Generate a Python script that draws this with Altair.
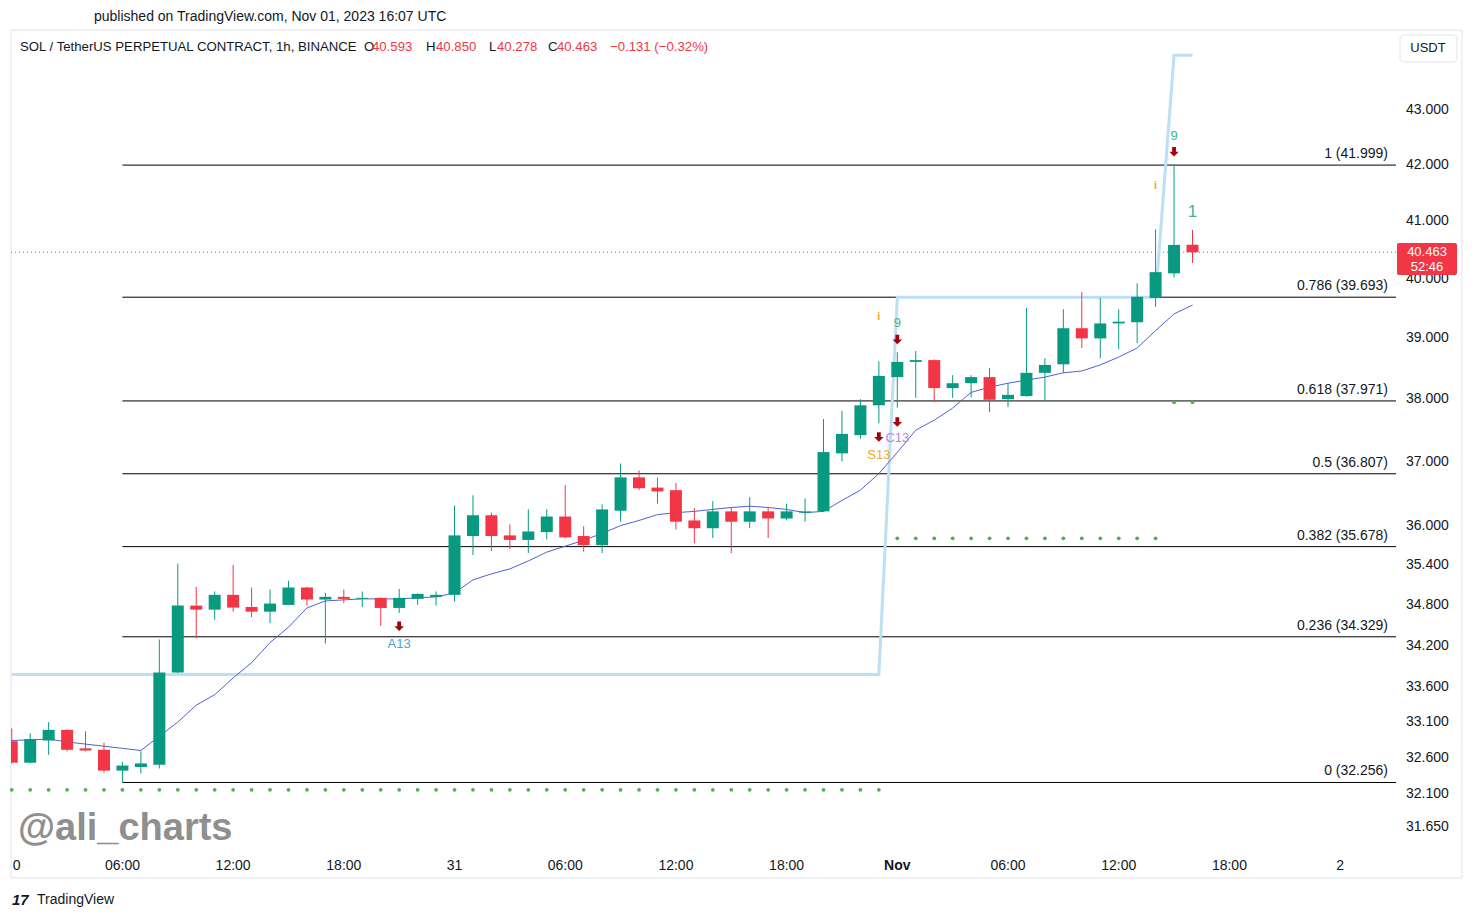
import altair as alt
import pandas as pd

GREEN = "#089981"
RED = "#f23645"
TXT = "#131722"
FONT = "Liberation Sans"

# ---- candles (hourly, hour 0 = Oct 30 00:00 UTC) ----
hours = list(range(65))
opens = [32.83, 32.53, 32.84, 32.99, 32.73, 32.71, 32.42, 32.47, 32.50, 33.81,
         34.79, 34.73, 34.95, 34.77, 34.70, 34.80, 35.06, 34.88, 34.92, 34.89,
         34.905, 34.755, 34.89, 34.92, 34.95, 35.84, 36.16, 35.85, 35.78, 35.90,
         36.14, 35.84, 35.70, 36.23, 36.75, 36.59, 36.55, 36.08, 35.96, 36.22,
         36.06, 36.22, 36.11, 36.20, 36.22, 37.13, 37.42, 37.90, 38.36, 38.61,
         38.64, 38.18, 38.26, 38.36, 38.00, 38.05, 38.43, 38.57, 39.17, 39.00,
         39.25, 39.27, 39.68, 40.10, 40.593]
highs = [33.01, 32.94, 33.10, 33.00, 32.97, 32.81, 32.54, 32.69, 34.29, 35.42,
         35.07, 35.00, 35.40, 35.06, 35.03, 35.16, 35.07, 34.98, 35.03, 35.00,
         34.91, 35.04, 34.97, 35.00, 36.31, 36.47, 36.20, 36.02, 36.25, 36.25,
         36.63, 35.99, 36.33, 36.97, 36.86, 36.75, 36.66, 36.27, 36.38, 36.28,
         36.44, 36.28, 36.34, 36.42, 37.68, 37.81, 38.00, 38.62, 38.77, 38.79,
         38.65, 38.39, 38.39, 38.51, 38.26, 39.51, 38.67, 39.49, 39.78, 39.68,
         39.49, 39.93, 40.86, 41.999, 40.850]
lows = [32.52, 32.52, 32.64, 32.69, 32.69, 32.39, 32.256, 32.38, 32.45, 33.80,
        34.31, 34.58, 34.70, 34.62, 34.53, 34.80, 34.79, 34.23, 34.83, 34.77,
        34.49, 34.68, 34.80, 34.79, 34.85, 35.55, 35.61, 35.64, 35.58, 35.79,
        35.81, 35.60, 35.58, 36.06, 36.55, 36.34, 35.94, 35.73, 35.81, 35.58,
        35.96, 35.81, 36.08, 36.06, 36.21, 37.00, 37.36, 37.61, 37.86, 38.02,
        37.95, 38.02, 38.03, 37.79, 37.87, 38.04, 37.97, 38.43, 38.84, 38.67,
        38.82, 38.92, 39.53, 40.03, 40.278]
closes = [32.53, 32.86, 32.99, 32.71, 32.70, 32.42, 32.49, 32.52, 33.81, 34.79,
          34.73, 34.95, 34.76, 34.70, 34.82, 35.06, 34.88, 34.92, 34.89, 34.905,
          34.755, 34.905, 34.965, 34.95, 35.85, 36.16, 35.84, 35.78, 35.91, 36.14,
          35.82, 35.70, 36.25, 36.75, 36.58, 36.53, 36.06, 35.96, 36.22, 36.06,
          36.22, 36.11, 36.22, 36.22, 37.15, 37.44, 37.90, 38.38, 38.61, 38.64,
          38.18, 38.26, 38.36, 37.99, 38.07, 38.43, 38.56, 39.17, 39.00, 39.25,
          39.28, 39.70, 40.12, 40.59, 40.463]

# ---- moving average (thin blue line) ----
ema = [32.84, 32.85, 32.86, 32.82, 32.79, 32.76, 32.73, 32.70, 32.90, 33.10,
       33.34, 33.49, 33.73, 33.95, 34.245, 34.47, 34.755, 34.86, 34.875, 34.89,
       34.89, 34.89, 34.905, 34.92, 34.98, 35.175, 35.265, 35.34, 35.46, 35.595,
       35.685, 35.775, 35.88, 36.00, 36.08, 36.17, 36.20, 36.22, 36.25, 36.28,
       36.30, 36.28, 36.25, 36.20, 36.22, 36.39, 36.55, 36.81, 37.145, 37.50,
       37.66, 37.855, 38.11, 38.195, 38.26, 38.31, 38.36, 38.43, 38.46, 38.56,
       38.69, 38.84, 39.13, 39.41, 39.56]

# ---- light-blue step line (vertices) ----
step_hours = [0, 47, 48, 62, 63, 64]
step_levels = [33.78, 33.78, 39.69, 39.69, 44.02, 44.02]

# ---- green dotted levels (first hour, last hour, level) ----
dot_segments = [(0, 47, 32.155), (48, 62, 35.805), (63, 64, 37.95)]

# ---- fibonacci levels ----
fib_ratios = ["1", "0.786", "0.618", "0.5", "0.382", "0.236", "0"]
fib_levels = [41.999, 39.693, 37.971, 36.807, 35.678, 34.329, 32.256]
fib_start_hour = 6

# ---- axes ----
price_ticks = [31.65, 32.1, 32.6, 33.1, 33.6, 34.2, 34.8, 35.4, 36.0, 37.0,
               38.0, 39.0, 40.0, 41.0, 42.0, 43.0]
time_ticks = [0, 6, 12, 18, 24, 30, 36, 42, 48, 54, 60, 66, 72]
time_labels = ["0", "06:00", "12:00", "18:00", "31", "06:00", "12:00", "18:00",
               "Nov", "06:00", "12:00", "18:00", "2"]
time_kind = ["edge"] + ["normal"] * 7 + ["bold"] + ["normal"] * 4
last_price = 40.463

# ---- annotations ----
ann_hours = [21, 47, 48, 48, 47, 63, 62, 64]
ann_prices = [34.23, 37.11, 37.37, 39.25, 39.35, 42.53, 41.62, 41.17]
ann_texts = ["A13", "S13", "C13", "9", "i", "9", "i", "1"]
ann_colors = ["#4a9fd8", "#f0a830", "#b388e8", "#3fb58f", "#f5a623", "#3fb58f", "#f5a623", "#3fb58f"]
ann_sizes = [13, 13, 13, 13, 11, 13, 11, 17]
arrow_hours = [21, 47, 48, 48, 63]
arrow_prices = [34.485, 37.39, 37.63, 38.98, 42.24]

candles = pd.DataFrame({"hour": hours, "open": opens, "high": highs,
                        "low": lows, "close": closes})
ema_df = pd.DataFrame({"hour": hours, "ema": ema})
step_df = pd.DataFrame({"hour": step_hours, "level": step_levels})
dot_rows = []
for h0, h1, lv in dot_segments:
    for h in range(h0, h1 + 1):
        dot_rows.append({"hour": h, "level": lv})
dots_df = pd.DataFrame(dot_rows)
fib_df = pd.DataFrame({"level": fib_levels,
                       "label": [f"{r} ({l:.3f})" for r, l in zip(fib_ratios, fib_levels)],
                       "start": [fib_start_hour] * len(fib_levels)})
ann_df = pd.DataFrame({"hour": ann_hours, "price": ann_prices, "txt": ann_texts,
                       "col": ann_colors, "fs": ann_sizes})
arrow_df = pd.DataFrame({"hour": arrow_hours, "price": arrow_prices})
last_df = pd.DataFrame({"price": [last_price]})
ptick_df = pd.DataFrame({"p": price_ticks})
tlab_df = pd.DataFrame({"hour": time_ticks, "lab": time_labels, "kind": time_kind})

W, H = 1385, 820
xscale = alt.Scale(domain=[-0.04, 75.03], nice=False, zero=False, padding=0)
yscale = alt.Scale(type="log", domain=[31.325, 44.477], nice=False, zero=False, padding=0)

Xn = alt.X("hour:Q", scale=xscale, axis=None, title=None)


def Yf(field):
    return alt.Y(field, scale=yscale, axis=None, title=None)


candle_color = alt.condition("datum.close >= datum.open", alt.value(GREEN), alt.value(RED))

frame = alt.Chart(last_df).mark_rect(fillOpacity=0, stroke="#e0e3eb", strokeWidth=1).encode(
    x=alt.value(0), x2=alt.value(1451), y=alt.value(-1), y2=alt.value(847))

fib_rules = alt.Chart(fib_df).mark_rule(color="#000000", strokeWidth=1).encode(
    x=alt.X("start:Q", scale=xscale, axis=None), x2=alt.value(W), y=Yf("level:Q"))
fib_text = alt.Chart(fib_df).mark_text(align="right", baseline="middle", dy=-11,
                                       fontSize=14, color=TXT, font=FONT).encode(
    x=alt.value(W - 8), y=Yf("level:Q"), text="label:N")

last_line = alt.Chart(last_df).mark_rule(color=RED, strokeDash=[1, 3], strokeWidth=1).encode(
    x=alt.value(0), x2=alt.value(W), y=Yf("price:Q"))

step_line = alt.Chart(step_df).mark_line(color="#bcdff5", strokeWidth=3, clip=True).encode(
    x=Xn, y=Yf("level:Q"))

dots = alt.Chart(dots_df).mark_point(filled=True, size=14, color="#4caf50", opacity=1).encode(
    x=Xn, y=Yf("level:Q"))

ema_line = alt.Chart(ema_df).mark_line(color="#4f62d1", strokeWidth=1, clip=True).encode(
    x=Xn, y=Yf("ema:Q"))

wicks = alt.Chart(candles).mark_rule(strokeWidth=1, clip=True).encode(
    x=Xn, y=Yf("low:Q"), y2="high:Q", color=candle_color)
bodies = alt.Chart(candles).mark_bar(size=12, clip=True).encode(
    x=Xn, y=Yf("open:Q"), y2="close:Q", color=candle_color)

arrow_path = "M-0.4,-1 L0.4,-1 L0.4,0 L1,0 L0,1 L-1,0 L-0.4,0 Z"
arrows = alt.Chart(arrow_df).mark_point(shape=arrow_path, filled=True, size=90,
                                        color="#a3000c", opacity=1).encode(
    x=Xn, y=Yf("price:Q"))
ann = alt.Chart(ann_df).mark_text(baseline="middle", font=FONT).encode(
    x=Xn, y=Yf("price:Q"), text="txt:N",
    color=alt.Color("col:N", scale=None), size=alt.Size("fs:Q", scale=None))
ann_i = alt.Chart(ann_df).transform_filter("datum.txt == 'i'").mark_text(
    baseline="middle", font=FONT, fontWeight="bold", fontSize=11, color="#f5a623").encode(
    x=Xn, y=Yf("price:Q"), text="txt:N")
ann = ann.transform_filter("datum.txt != 'i'")

# price-axis labels (through the log scale)
plabels = alt.Chart(ptick_df).mark_text(align="left", baseline="middle", fontSize=14,
                                        color=TXT, font=FONT).encode(
    x=alt.value(W + 10), y=Yf("p:Q"), text=alt.Text("p:Q", format=".3f"))

# time-axis labels (through the x scale)
tl_normal = alt.Chart(tlab_df).transform_filter("datum.kind == 'normal'").mark_text(
    baseline="middle", fontSize=14, color=TXT, font=FONT).encode(
    x=Xn, y=alt.value(H + 15), text="lab:N")
tl_bold = alt.Chart(tlab_df).transform_filter("datum.kind == 'bold'").mark_text(
    baseline="middle", fontSize=14, fontWeight="bold", color=TXT, font=FONT).encode(
    x=Xn, y=alt.value(H + 15), text="lab:N")
tl_edge = alt.Chart(tlab_df).transform_filter("datum.kind == 'edge'").mark_text(
    baseline="middle", align="left", dx=1, fontSize=14, color=TXT, font=FONT).encode(
    x=Xn, y=alt.value(H + 15), text="lab:N")

# price box on the right axis
pbox = alt.Chart(last_df).mark_rect(color=RED, cornerRadius=2).encode(
    x=alt.value(1386), x2=alt.value(1446), y=alt.value(212), y2=alt.value(244))
ptxt1 = alt.Chart(last_df).mark_text(color="white", fontSize=13, font=FONT).encode(
    x=alt.value(1416), y=alt.value(221), text=alt.value("40.463"))
ptxt2 = alt.Chart(last_df).mark_text(color="white", fontSize=13, font=FONT).encode(
    x=alt.value(1416), y=alt.value(236), text=alt.value("52:46"))

ubox = alt.Chart(last_df).mark_rect(fill="white", stroke="#e0e3eb", cornerRadius=4).encode(
    x=alt.value(1389), x2=alt.value(1446), y=alt.value(4), y2=alt.value(31))
utxt = alt.Chart(last_df).mark_text(color=TXT, fontSize=13, font=FONT).encode(
    x=alt.value(1417), y=alt.value(17), text=alt.value("USDT"))

# header / footer texts
header_parts = [("SOL / TetherUS PERPETUAL CONTRACT, 1h, BINANCE", TXT, 9),
                ("O", TXT, 353), ("40.593", RED, 361),
                ("H", TXT, 415), ("40.850", RED, 425),
                ("L", TXT, 478), ("40.278", RED, 486),
                ("C", TXT, 537), ("40.463", RED, 546),
                ("\u22120.131 (\u22120.32%)", RED, 599)]
texts = []
for t, c, px in header_parts:
    texts.append(alt.Chart(last_df).mark_text(align="left", baseline="middle", fontSize=13.2,
                                              color=c, font=FONT).encode(
        x=alt.value(px), y=alt.value(16), text=alt.value(t)))
texts.append(alt.Chart(last_df).mark_text(align="left", baseline="middle", fontSize=14,
                                          color=TXT, font=FONT).encode(
    x=alt.value(83), y=alt.value(-14),
    text=alt.value("published on TradingView.com, Nov 01, 2023 16:07 UTC")))
texts.append(alt.Chart(last_df).mark_text(align="left", baseline="alphabetic", fontSize=38,
                                          fontWeight="bold", color="#8f8f8f", font=FONT).encode(
    x=alt.value(7), y=alt.value(809), text=alt.value("@ali_charts")))
texts.append(alt.Chart(last_df).mark_text(align="left", baseline="middle", fontSize=14,
                                          color=TXT, font=FONT).encode(
    x=alt.value(26), y=alt.value(869), text=alt.value("TradingView")))
texts.append(alt.Chart(last_df).mark_text(align="left", baseline="middle", fontSize=15,
                                          fontWeight=900, fontStyle="italic", color=TXT,
                                          font=FONT).encode(
    x=alt.value(1), y=alt.value(869), text=alt.value("17")))

chart = alt.layer(
    frame, fib_rules, last_line, step_line, dots, ema_line, wicks, bodies,
    arrows, ann, ann_i, fib_text, plabels, tl_normal, tl_bold, tl_edge,
    pbox, ptxt1, ptxt2, ubox, utxt, *texts
).properties(
    width=W, height=H,
    autosize=alt.AutoSizeParams(type="none"),
    padding={"left": 3, "top": 23, "right": 68, "bottom": 60},
    background="white",
).configure_view(stroke=None)

chart.save("out.html", embed_options={"renderer": "svg", "actions": False})
